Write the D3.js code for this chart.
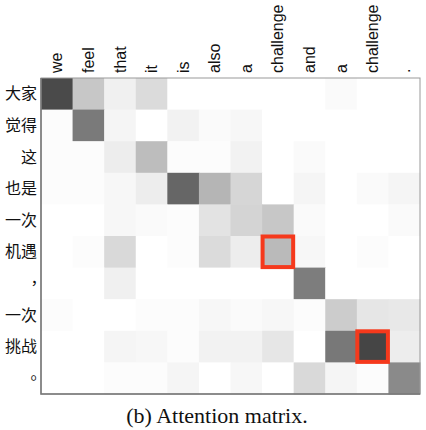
<!DOCTYPE html>
<meta charset="utf-8">
<head>
  <title>Attention matrix</title>
</head>
<style>
  body { margin: 0; background: #fff; }
</style>
<body>
  <svg width="426" height="430"></svg>

  <script src="https://cdn.jsdelivr.net/npm/d3@7"></script>
  <script>

// source words (columns) and target words (rows)
var srcWords = ["we", "feel", "that", "it", "is", "also", "a", "challenge", "and", "a", "challenge", "."];
var tgtWords = ["大家", "觉得", "这", "也是", "一次", "机遇", "，", "一次", "挑战", "。"];

// attention weights, one row per target word
var attn = [
  [0.71, 0.22, 0.06, 0.14, 0.00, 0.00, 0.00, 0.00, 0.00, 0.02, 0.00, 0.00],
  [0.01, 0.52, 0.04, 0.00, 0.05, 0.02, 0.03, 0.00, 0.00, 0.00, 0.00, 0.00],
  [0.01, 0.01, 0.07, 0.26, 0.01, 0.01, 0.05, 0.00, 0.02, 0.00, 0.00, 0.00],
  [0.01, 0.01, 0.03, 0.07, 0.60, 0.29, 0.16, 0.00, 0.04, 0.00, 0.02, 0.04],
  [0.00, 0.00, 0.03, 0.02, 0.01, 0.11, 0.17, 0.22, 0.02, 0.00, 0.00, 0.02],
  [0.00, 0.01, 0.15, 0.00, 0.01, 0.14, 0.07, 0.27, 0.03, 0.00, 0.01, 0.00],
  [0.00, 0.00, 0.06, 0.00, 0.00, 0.00, 0.00, 0.00, 0.51, 0.00, 0.00, 0.00],
  [0.01, 0.00, 0.00, 0.01, 0.01, 0.03, 0.02, 0.03, 0.01, 0.20, 0.10, 0.09],
  [0.00, 0.00, 0.04, 0.03, 0.01, 0.05, 0.05, 0.10, 0.00, 0.53, 0.73, 0.07],
  [0.00, 0.00, 0.01, 0.01, 0.04, 0.00, 0.03, 0.00, 0.15, 0.04, 0.01, 0.46]
];

// highlighted cells [row, col]
var highlights = [[5, 7], [8, 10]];

var caption = "(b) Attention matrix.";

var svg = d3.select("svg");

var gridLeft = 41, gridRight = 420, gridTop = 78, gridBottom = 394;

var x = d3.scaleBand().domain(d3.range(srcWords.length)).range([gridLeft, gridRight]);
var y = d3.scaleBand().domain(d3.range(tgtWords.length)).range([gridTop, gridBottom]);
var color = d3.scaleLinear().domain([0, 1]).range(["#ffffff", "#000000"]);

// flatten matrix into cells
var cells = [];
attn.forEach(function(row, r) {
  row.forEach(function(v, c) {
    cells.push({r: r, c: c, v: v});
  });
});

svg.append("g").selectAll("rect")
  .data(cells)
  .enter()
  .append("rect")
  .attr("x", function(d) { return x(d.c); })
  .attr("y", function(d) { return y(d.r); })
  .attr("width", x.bandwidth() + 0.5)
  .attr("height", y.bandwidth() + 0.5)
  .style("fill", function(d) { return color(d.v); });

// frame
svg.append("rect")
  .attr("x", gridLeft)
  .attr("y", gridTop)
  .attr("width", gridRight - gridLeft)
  .attr("height", gridBottom - gridTop)
  .style("fill", "none")
  .style("stroke", "#999")
  .style("stroke-width", 1);

svg.append("path")
  .attr("d", "M" + gridLeft + "," + gridTop + "V" + gridBottom + "H" + gridRight)
  .style("fill", "none")
  .style("stroke", "#777")
  .style("stroke-width", 1.5);

// red boxes
svg.append("g").selectAll("rect")
  .data(highlights)
  .enter()
  .append("rect")
  .attr("x", function(d) { return x(d[1]) + 0.5; })
  .attr("y", function(d) { return y(d[0]) + 0.5; })
  .attr("width", x.bandwidth() - 1)
  .attr("height", y.bandwidth() - 1)
  .style("fill", "none")
  .style("stroke", "#f5391c")
  .style("stroke-width", 4);

// column labels, rotated
svg.append("g").selectAll("text")
  .data(srcWords)
  .enter()
  .append("text")
  .attr("transform", function(d, i) {
    return "translate(" + (x(i) + x.bandwidth() / 2) + "," + (gridTop - 5) + ") rotate(-90)";
  })
  .attr("dy", "0.35em")
  .style("font-family", "'Liberation Sans', Arial, sans-serif")
  .style("font-size", "16px")
  .style("fill", "#111")
  .text(function(d) { return d; });

// row labels
var punct = ["，", "。"];
svg.append("g").selectAll("text")
  .data(tgtWords)
  .enter()
  .append("text")
  .attr("x", gridLeft - 4)
  .attr("y", function(d, i) { return y(i) + y.bandwidth() / 2; })
  .attr("dx", function(d) { return punct.indexOf(d) >= 0 ? "0.6em" : 0; })
  .attr("dy", function(d) { return punct.indexOf(d) >= 0 ? "0.05em" : "0.35em"; })
  .attr("text-anchor", "end")
  .style("font-family", "'Noto Sans CJK SC', sans-serif")
  .style("font-size", "16px")
  .style("fill", "#111")
  .text(function(d) { return d; });

// caption
svg.append("text")
  .attr("x", 217)
  .attr("y", 423)
  .attr("text-anchor", "middle")
  .style("font-family", "'Liberation Serif', 'Times New Roman', serif")
  .style("font-size", "22px")
  .style("fill", "#111")
  .text(caption);

  </script>
</body>
</html>
